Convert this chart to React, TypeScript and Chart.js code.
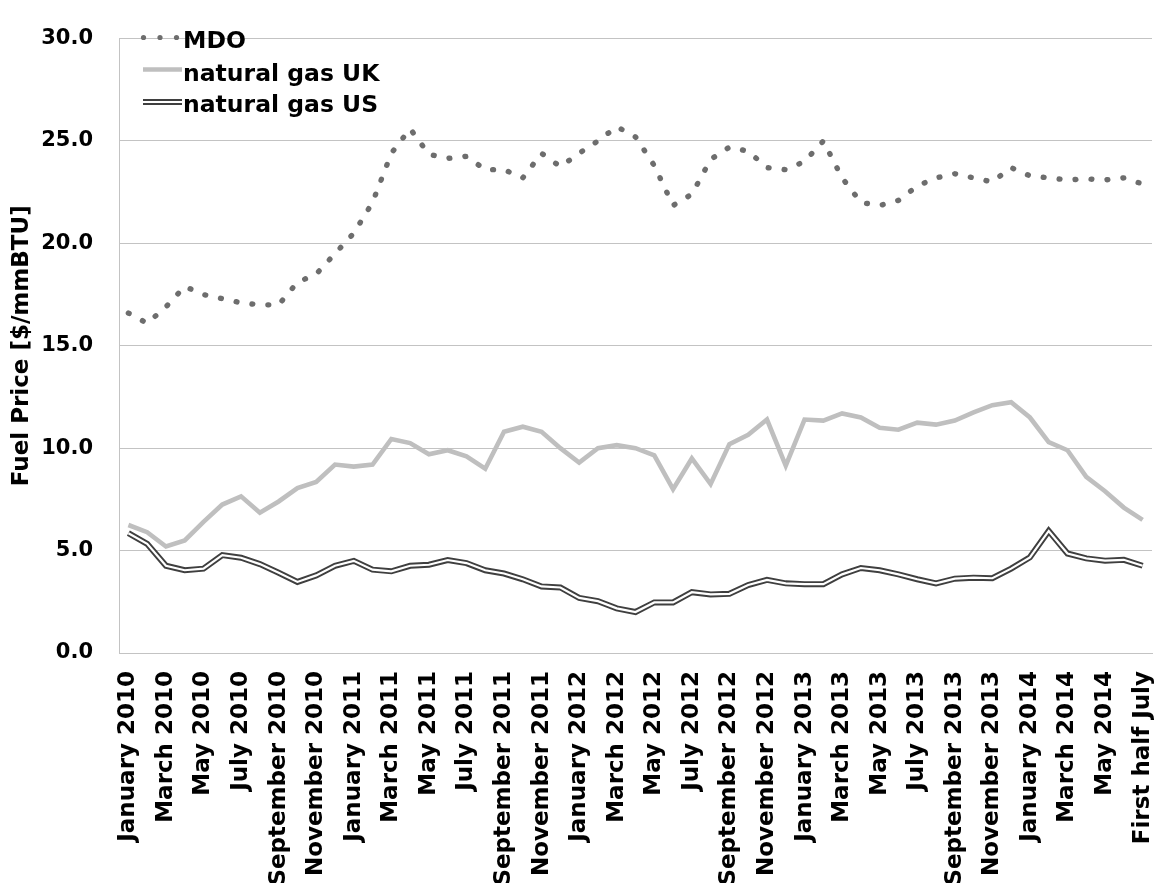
import React, { useEffect, useRef } from "react";
import { Chart, registerables } from "chart.js";

Chart.register(...registerables);

const CATEGORIES = [
  "January 2010", "February 2010", "March 2010", "April 2010", "May 2010", "June 2010",
  "July 2010", "August 2010", "September 2010", "October 2010", "November 2010", "December 2010",
  "January 2011", "February 2011", "March 2011", "April 2011", "May 2011", "June 2011",
  "July 2011", "August 2011", "September 2011", "October 2011", "November 2011", "December 2011",
  "January 2012", "February 2012", "March 2012", "April 2012", "May 2012", "June 2012",
  "July 2012", "August 2012", "September 2012", "October 2012", "November 2012", "December 2012",
  "January 2013", "February 2013", "March 2013", "April 2013", "May 2013", "June 2013",
  "July 2013", "August 2013", "September 2013", "October 2013", "November 2013", "December 2013",
  "January 2014", "February 2014", "March 2014", "April 2014", "May 2014", "June 2014",
  "First half July",
];

const MDO = [
  16.6, 16.1, 16.9, 17.9, 17.5, 17.3, 17.1, 17.0, 17.0, 18.1, 18.5, 19.5,
  20.5, 22.0, 24.4, 25.6, 24.35, 24.15, 24.25, 23.6, 23.6, 23.2, 24.4, 23.75,
  24.4, 25.0, 25.7, 25.2, 23.8, 21.85, 22.4, 24.1, 24.7, 24.5, 23.7, 23.6,
  24.0, 25.0, 23.2, 22.0, 21.85, 22.1, 22.8, 23.2, 23.4, 23.2, 23.0, 23.7,
  23.3, 23.2, 23.1, 23.15, 23.1, 23.2, 22.9,
];

const GAS_UK = [
  6.25, 5.9, 5.2, 5.5, 6.4, 7.25, 7.65, 6.85, 7.4, 8.05, 8.35, 9.2,
  9.1, 9.2, 10.45, 10.25, 9.7, 9.9, 9.6, 9.0, 10.8, 11.05, 10.8, 10.0,
  9.3, 10.0, 10.15, 10.0, 9.65, 8.0, 9.5, 8.25, 10.2, 10.65, 11.4, 9.15,
  11.4, 11.35, 11.7, 11.5, 11.0, 10.9, 11.25, 11.15, 11.35, 11.75, 12.1, 12.25,
  11.5, 10.3, 9.9, 8.6, 7.9, 7.1, 6.5,
];

const GAS_US = [
  5.85, 5.33, 4.26, 4.04, 4.12, 4.78, 4.65, 4.34, 3.92, 3.47, 3.79, 4.26,
  4.5, 4.07, 3.99, 4.26, 4.31, 4.54, 4.39, 4.04, 3.88, 3.6, 3.25, 3.2,
  2.69, 2.53, 2.18, 2.0, 2.47, 2.47, 2.97, 2.86, 2.89, 3.32, 3.57, 3.4,
  3.36, 3.36, 3.84, 4.15, 4.04, 3.84, 3.6, 3.4, 3.63, 3.68, 3.65, 4.12,
  4.67, 5.96, 4.86, 4.62, 4.51, 4.55, 4.26,
];

const SERIES_NAMES = ["MDO", "natural gas UK", "natural gas US"];
const Y_TITLE = "Fuel Price [$/mmBTU]";

const FONT_FAMILY = '"DejaVu Sans", "Liberation Sans", Arial, sans-serif';
const C_MDO = "#6d6d6d";
const C_UK = "#bfbfbf";
const C_US = "#3f3f3f";
const C_GRID = "#c3c3c3";

const insideLegend = {
  id: "insideLegend",
  afterDatasetsDraw(chart: any) {
    const ctx = chart.ctx as CanvasRenderingContext2D;
    const x0 = 143;
    const x1 = 182;
    const rows = [41, 73.5, 105];
    ctx.save();
    // MDO: dots
    ctx.fillStyle = C_MDO;
    [143.5, 160, 176.5].forEach((cx) => {
      ctx.beginPath();
      ctx.arc(cx, rows[0] - 3.5, 2.6, 0, Math.PI * 2);
      ctx.fill();
    });
    // UK: thick light line
    ctx.strokeStyle = C_UK;
    ctx.lineWidth = 4.5;
    ctx.beginPath();
    ctx.moveTo(x0, rows[1] - 4);
    ctx.lineTo(x1, rows[1] - 4);
    ctx.stroke();
    // US: double line
    ctx.strokeStyle = C_US;
    ctx.lineWidth = 6;
    ctx.beginPath();
    ctx.moveTo(x0, rows[2] - 3);
    ctx.lineTo(x1, rows[2] - 3);
    ctx.stroke();
    ctx.strokeStyle = "#ffffff";
    ctx.lineWidth = 2.2;
    ctx.beginPath();
    ctx.moveTo(x0 - 1, rows[2] - 3);
    ctx.lineTo(x1 + 1, rows[2] - 3);
    ctx.stroke();
    // texts
    ctx.fillStyle = "#000000";
    ctx.font = `bold 23.5px ${FONT_FAMILY}`;
    ctx.textAlign = "left";
    ctx.textBaseline = "middle";
    SERIES_NAMES.forEach((name, i) => {
      ctx.fillText(name, 183, rows[i] + 1);
    });
    ctx.restore();
  },
};

export default function App() {
  const canvasRef = useRef<HTMLCanvasElement | null>(null);

  useEffect(() => {
    const canvas = canvasRef.current;
    if (!canvas) return;
    const chart = new Chart(canvas, {
      type: "line",
      data: {
        labels: CATEGORIES,
        datasets: [
          {
            label: SERIES_NAMES[0],
            data: MDO,
            borderColor: C_MDO,
            borderWidth: 5.4,
            borderDash: [0.8, 15.2],
            borderCapStyle: "round",
            borderJoinStyle: "round",
            pointRadius: 0,
            tension: 0,
            order: 4,
          },
          {
            label: SERIES_NAMES[1],
            data: GAS_UK,
            borderColor: C_UK,
            borderWidth: 4.6,
            borderJoinStyle: "miter",
            pointRadius: 0,
            tension: 0,
            order: 3,
          },
          {
            label: SERIES_NAMES[2],
            data: GAS_US,
            borderColor: C_US,
            borderWidth: 6,
            borderJoinStyle: "miter",
            pointRadius: 0,
            tension: 0,
            order: 2,
          },
          {
            label: SERIES_NAMES[2] + " (inner)",
            data: GAS_US,
            borderColor: "#ffffff",
            borderWidth: 2.2,
            borderJoinStyle: "miter",
            pointRadius: 0,
            tension: 0,
            order: 1,
          },
        ],
      },
      options: {
        responsive: false,
        animation: false,
        devicePixelRatio: 1,
        layout: { padding: { top: 17, right: 15, bottom: 0, left: 0 } },
        plugins: {
          legend: { display: false },
          tooltip: { enabled: false },
        },
        scales: {
          x: {
            type: "category",
            offset: true,
            grid: { display: false, drawTicks: false },
            border: { display: true, color: C_GRID, width: 1 },
            ticks: {
              autoSkip: false,
              minRotation: 90,
              maxRotation: 90,
              padding: 18,
              color: "#000000",
              font: { family: FONT_FAMILY, size: 23, weight: "bold" },
              callback: (_v: any, i: number) => (i % 2 === 0 ? CATEGORIES[i] : null),
            },
            afterFit: (scale: any) => {
              scale.height = 230;
              scale.paddingLeft = 0;
              scale.paddingRight = 0;
            },
          },
          y: {
            min: 0,
            max: 30,
            grid: { color: C_GRID, lineWidth: 1, drawTicks: false },
            border: { display: true, color: C_GRID, width: 1 },
            ticks: {
              stepSize: 5,
              padding: 26,
              color: "#000000",
              font: { family: FONT_FAMILY, size: 21, weight: "bold" },
              callback: (v: any) => Number(v).toFixed(1),
            },
            title: {
              display: true,
              text: Y_TITLE,
              color: "#000000",
              padding: { top: 8, bottom: 0 },
              font: { family: FONT_FAMILY, size: 23, weight: "bold" },
            },
            afterFit: (scale: any) => {
              scale.width = 119;
            },
          },
        },
      },
      plugins: [insideLegend],
    });
    return () => chart.destroy();
  }, []);

  return (
    <div
      style={{
        position: "fixed",
        left: 0,
        top: 0,
        width: 1167,
        height: 883,
        background: "#ffffff",
      }}
    >
      <canvas ref={canvasRef} width={1167} height={883} style={{ width: 1167, height: 883 }} />
    </div>
  );
}
